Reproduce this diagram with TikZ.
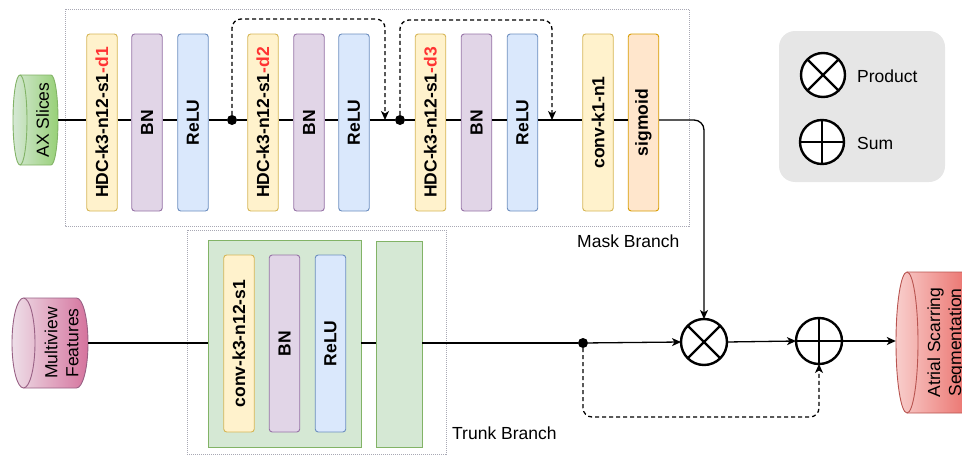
\documentclass[tikz,border=0pt]{standalone}
\usepackage{fontspec}
\usepackage{graphicx}
\setmainfont{Liberation Sans}
\usetikzlibrary{arrows.meta,calc}

\definecolor{yelF}{HTML}{FFF2CC}\definecolor{yelD}{HTML}{D6B656}
\definecolor{purF}{HTML}{E1D5E7}\definecolor{purD}{HTML}{9673A6}
\definecolor{bluF}{HTML}{DAE8FC}\definecolor{bluD}{HTML}{6C8EBF}
\definecolor{oraF}{HTML}{FFE6CC}\definecolor{oraD}{HTML}{D79B00}
\definecolor{grnF}{HTML}{D5E8D4}\definecolor{grnD}{HTML}{82B366}
\definecolor{grnG}{HTML}{97D077}
\definecolor{pnkF}{HTML}{E6D0DE}\definecolor{pnkG}{HTML}{D5739D}\definecolor{pnkD}{HTML}{996185}
\definecolor{redF}{HTML}{F8CECC}\definecolor{redG}{HTML}{EA6B66}\definecolor{redD}{HTML}{B85450}
\definecolor{legF}{HTML}{E6E6E6}
\definecolor{hot}{HTML}{FF3333}
\definecolor{frame}{HTML}{A8A8B4}

\newcommand\rtext[1]{\rotatebox{90}{#1}}
% horizontal cylinder: name, x1, y1, x2, y2, rx, shading, border colour, label
\newcommand\hcyl[9]{%
  \path[#7,draw=#8,line width=0.9pt] ({#2+#6},{-#3}) -- ({#4-#6},{-#3})
    arc[start angle=90,end angle=-90,x radius=#6,y radius={(#5-#3)/2}]
    -- ({#2+#6},{-#5})
    arc[start angle=-90,end angle=-270,x radius=#6,y radius={(#5-#3)/2}] -- cycle;
  \draw[draw=#8,line width=0.9pt] ({#2+#6},{-#3})
    arc[start angle=90,end angle=-90,x radius=#6,y radius={(#5-#3)/2}];
  \node[minimum width={(#4-#2)*1pt},minimum height={(#5-#3)*1pt},inner sep=0pt]
    (#1) at ({(#2+#4)/2},{-(#3+#5)/2}) {};
  \node[rotate=90,align=center,font=\fontsize{17.5}{21}\selectfont]
    (#1-t) at ({(#2+#4)/2+#6},{-(#3+#5)/2}) {#9};
}

\begin{document}
\begin{tikzpicture}[x=1pt,y=1pt,
  layer/.style={draw,rounded corners=3pt,line width=0.9pt,minimum width=30.5pt,
    minimum height=177pt,inner sep=0pt,font=\bfseries\fontsize{17.5}{21}\selectfont},
  yel/.style={layer,fill=yelF,draw=yelD},
  pur/.style={layer,fill=purF,draw=purD},
  blu/.style={layer,fill=bluF,draw=bluD},
  ora/.style={layer,fill=oraF,draw=oraD},
  conn/.style={line width=1.3pt},
  tip/.style={-{Stealth[length=9pt,width=8pt,inset=2.5pt]}},
  skip/.style={conn,dash pattern=on 4pt off 3pt,rounded corners=9pt},
  dotnode/.style={circle,fill=black,inner sep=0pt,minimum size=10pt},
  op/.style={circle,draw,line width=2.4pt,fill=white,minimum size=46pt,inner sep=0pt,outer sep=0pt},
  group/.style={draw=frame,line width=0.8pt,dash pattern=on 1pt off 1pt},
  lbl/.style={font=\fontsize{17.5}{21}\selectfont,inner sep=0pt}
]
\useasboundingbox (0,0) rectangle (962,-455);
\clip (0,0) rectangle (962,-455);
\coordinate (ml) at (0,-120);
\coordinate (tl) at (0,-343);

% group frames
\draw[group] (65,-9) rectangle (689,-226);
\draw[group] (187,-230) rectangle (446,-454);
\node[lbl,anchor=west] (maskl) at (577,-241) {Mask Branch};
\node[lbl,anchor=west] (trunkl) at (452,-433) {Trunk Branch};

% legend
\node[fill=legF,rounded corners=16pt,minimum width=166pt,minimum height=151pt] (leg) at (862,-106.5) {};
\node[op,minimum size=44pt] (lp) at (823,-75) {};
\draw[line width=2.4pt] (lp.north east) -- (lp.south west) (lp.north west) -- (lp.south east);
\node[op,minimum size=44pt] (ls) at (822,-142) {};
\draw[line width=2.4pt] (ls.north) -- (ls.south) (ls.west) -- (ls.east);
\node[lbl,anchor=west] (lpt) at (857,-76) {Product};
\node[lbl,anchor=west] (lst) at (857,-143) {Sum};

% inputs and output
\hcyl{ax}{13}{75}{58}{165}{7}{left color=grnF,right color=grnG}{grnD}{AX Slices}
\hcyl{mv}{12}{298}{88}{388}{11.5}{left color=pnkF!70!white,right color=pnkG}{pnkD}{Multiview\\Features}
\hcyl{out}{896}{272}{974}{413}{11}{left color=redF,right color=redG}{redD}{Atrial Scarring\\Segmentation}

% mask branch layers
\node[yel] (d1) at (102,-122.5) {\rtext{HDC-k3-n12-s1\textcolor{hot}{-d1}}};
\node[pur] (bn1) at (147,-122.5) {\rtext{BN}};
\node[blu] (re1) at (193,-122.5) {\rtext{ReLU}};
\node[yel] (d2) at (263,-122.5) {\rtext{HDC-k3-n12-s1\textcolor{hot}{-d2}}};
\node[pur] (bn2) at (309,-122.5) {\rtext{BN}};
\node[blu] (re2) at (354,-122.5) {\rtext{ReLU}};
\node[yel] (d3) at (430.5,-122.5) {\rtext{HDC-k3-n12-s1\textcolor{hot}{-d3}}};
\node[pur] (bn3) at (476.5,-122.5) {\rtext{BN}};
\node[blu] (re3) at (522.5,-122.5) {\rtext{ReLU}};
\node[yel] (c1) at (598,-122.5) {\rtext{conv-k1-n1}};
\node[ora] (sg) at (643.5,-122.5) {\rtext{sigmoid}};

\node[dotnode] (j1) at (232,-120) {};
\node[dotnode] (j2) at (400,-120) {};
\coordinate (a1) at (385,-120);
\coordinate (a2) at (552,-120);

% trunk branch layers
\node[draw=grnD,fill=grnF,line width=0.9pt,minimum width=153pt,minimum height=207pt] (tb) at (284.5,-343.5) {};
\node[draw=grnD,fill=grnF,line width=0.9pt,minimum width=46pt,minimum height=206pt] (tb2) at (399,-344) {};
\node[yel] (c3) at (239,-343.5) {\rtext{conv-k3-n12-s1}};
\node[pur] (bn4) at (284.5,-343.5) {\rtext{BN}};
\node[blu] (re4) at (330.5,-343.5) {\rtext{ReLU}};

\node[dotnode] (j3) at (583,-343) {};
\node[op] (prod) at (704,-342) {};
\draw[line width=2.4pt] (prod.north east) -- (prod.south west) (prod.north west) -- (prod.south east);
\node[op] (sum) at (819,-341) {};
\draw[line width=2.4pt] (sum.north) -- (sum.south) (sum.west) -- (sum.east);

% mask branch main path
\draw[conn] (ax.east |- ml) -- (d1.west |- ml);
\foreach \a/\b in {d1/bn1,bn1/re1,d2/bn2,bn2/re2,d3/bn3,bn3/re3,c1/sg}
  \draw[conn] (\a.east |- ml) -- (\b.west |- ml);
\draw[conn] (re1.east |- ml) -- (j1) -- (d2.west |- ml);
\draw[conn] (re2.east |- ml) -- (a1) -- (j2) -- (d3.west |- ml);
\draw[conn] (re3.east |- ml) -- (a2) -- (c1.west |- ml);
\draw[skip,tip] (j1) -- (232,-19) -| (a1);
\draw[skip,tip] (j2) -- (400,-20) -| (a2);
\draw[conn,tip,rounded corners=10pt] (sg.east |- ml) -- (prod.north |- ml) -- (prod.north);

% trunk branch main path
\draw[conn] (mv.east |- tl) -- (tb.west |- tl);
\draw[conn] (tb.east |- tl) -- (tb2.west |- tl);
\draw[conn] (tb2.east |- tl) -- (j3);
\draw[conn,tip] (j3) -- (prod.west);
\draw[conn,tip] (prod.east) -- (sum.west);
\draw[conn,tip] (sum.east) -- (out.west |- sum.east);
\draw[skip,tip] (j3) -- (583,-417) -| (sum.south);
\end{tikzpicture}
\end{document}
